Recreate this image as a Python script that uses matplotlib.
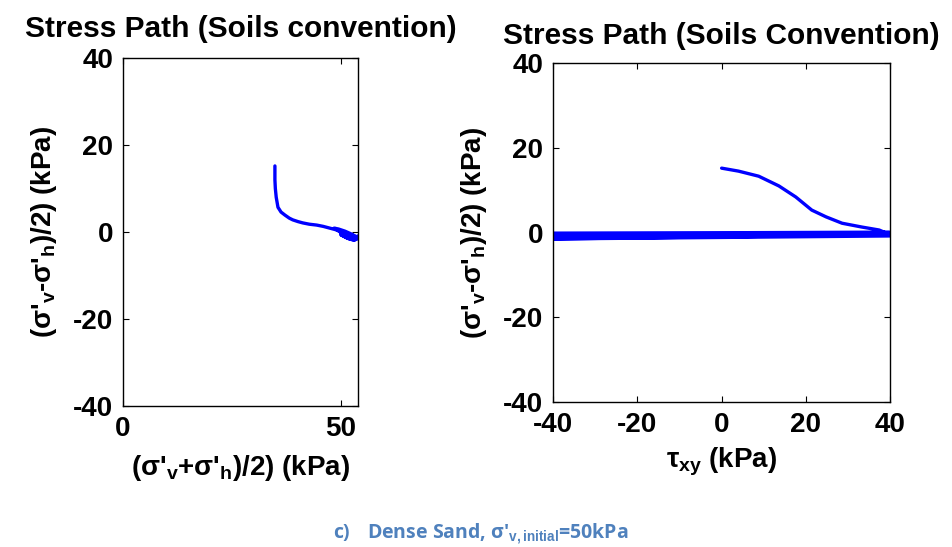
import numpy as np
import matplotlib
matplotlib.use('Agg')
import matplotlib.pyplot as plt

plt.rcParams['font.family'] = ['Liberation Sans', 'DejaVu Sans']
plt.rcParams['font.weight'] = 'bold'
plt.rcParams['axes.labelweight'] = 'bold'
plt.rcParams['axes.titleweight'] = 'bold'
plt.rcParams['axes.unicode_minus'] = False
plt.rcParams['mathtext.fontset'] = 'custom'
plt.rcParams['mathtext.rm'] = 'Liberation Sans:bold'
plt.rcParams['mathtext.it'] = 'Liberation Sans:bold'
plt.rcParams['mathtext.bf'] = 'Liberation Sans:bold'
plt.rcParams['xtick.direction'] = 'in'
plt.rcParams['ytick.direction'] = 'in'

# Trajetória p'-q (convenção de solos)
p_mean = [34.9, 34.9, 35.0, 35.2, 35.6, 36.3, 37.2, 38.2, 39.0, 40.2, 41.3,
          42.8, 44.5, 46.0, 47.5, 49.0, 50.5, 52.0, 53.5, 52.8, 51.0, 49.5,
          48.5, 50.5, 52.5, 53.8, 53.0, 51.5, 50.0, 51.8, 53.2, 53.9, 52.6,
          50.8, 52.2, 53.6, 53.9]
q_dev = [15.2, 12.0, 10.0, 8.0, 5.7, 4.6, 3.9, 3.2, 2.8, 2.4, 2.1,
         1.8, 1.6, 1.3, 0.9, 0.5, 0.0, -0.5, -1.1, -0.6, 0.2, 0.7,
         0.9, -0.4, -1.2, -1.6, -1.9, -1.4, -0.6, -1.5, -1.8, -1.3, -0.7,
         -0.2, -0.9, -1.2, -0.9]

# Trajetória tau_xy - q
tau_xy = [0.0, 4.0, 8.8, 13.6, 17.6, 21.4, 24.8, 28.6, 33.3, 37.4, 39.5,
          -39.8, 39.8, -40.0, 39.9, -39.9, 40.0, -39.7, 40.0, -40.0, 39.8]
q_cyc = [15.2, 14.5, 13.3, 11.0, 8.4, 5.3, 3.7, 2.2, 1.3, 0.6, -0.3,
         -0.2, 0.1, -1.2, -0.5, -1.5, -0.8, -0.4, -0.2, -1.0, -0.6]

LINE = dict(color='#0000ff', lw=2.4, solid_capstyle='round', solid_joinstyle='round')
YLAB = "(\u03c3'$_v$-\u03c3'$_h$)/2) (kPa)"


def style_axes(ax):
    ax.tick_params(labelsize=20, top=True, right=True, length=4, width=0.8, pad=7)
    for sp in ax.spines.values():
        sp.set_linewidth(1.0)
    ax.set_yticks([-40, -20, 0, 20, 40])
    ax.set_ylim(-40, 40)


fig = plt.figure(figsize=(9.52, 5.47), dpi=100)

ax1 = fig.add_axes([0.1292, 0.2578, 0.2469, 0.636])
ax1.plot(p_mean, q_dev, **LINE)
ax1.set_xlim(0, 54)
ax1.set_xticks([0, 50])
style_axes(ax1)
ax1.set_title('Stress Path (Soils convention)', fontsize=21.5, pad=15)
ax1.set_xlabel("(\u03c3'$_v$+\u03c3'$_h$)/2) (kPa)", fontsize=20, labelpad=8)
ax1.set_ylabel(YLAB, fontsize=20, labelpad=10)

ax2 = fig.add_axes([0.581, 0.265, 0.354, 0.6197])
ax2.plot(tau_xy, q_cyc, **LINE)
ax2.set_xlim(-40, 40)
ax2.set_xticks([-40, -20, 0, 20, 40])
style_axes(ax2)
ax2.set_title('Stress Path (Soils Convention)', fontsize=21.5, pad=14)
ax2.set_xlabel('\u03c4$_{xy}$ (kPa)', fontsize=20, labelpad=6)
ax2.set_ylabel(YLAB, fontsize=20, labelpad=10)

fig.text(0.35, 0.025, 'c)', color='#4f81bd', fontsize=14, fontweight='bold',
         family=['Open Sans', 'DejaVu Sans'], va='center')
fig.text(0.386, 0.025, "Dense Sand, \u03c3'$_{v,initial}$=50kPa", color='#4f81bd',
         fontsize=14, fontweight='bold', family=['Open Sans', 'DejaVu Sans'], va='center')

plt.savefig('out.png', dpi=100)
